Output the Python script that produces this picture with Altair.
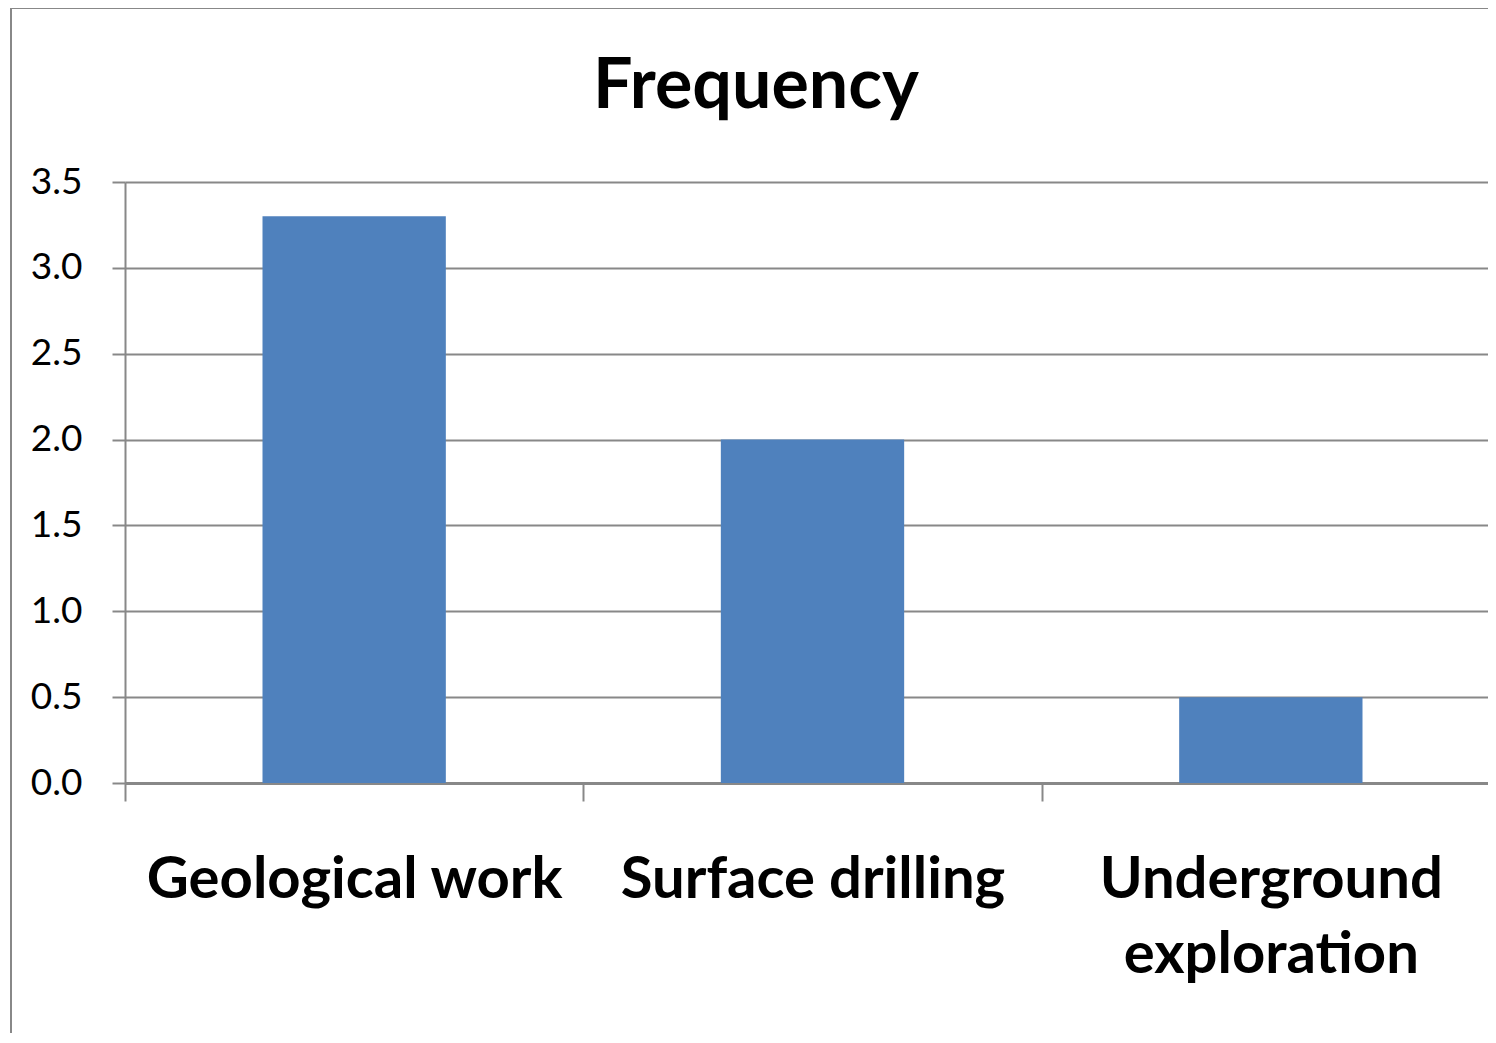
import altair as alt
import pandas as pd

categories = ["Geological work", "Surface drilling", "Underground|exploration"]
values = [3.3, 2.0, 0.5]
y_ticks = [0.0, 0.5, 1.0, 1.5, 2.0, 2.5, 3.0, 3.5]
title_text = ["Frequency"]

df = pd.DataFrame({"category": categories, "value": values})
title_df = pd.DataFrame({"t": title_text})

GRAY = "#888888"

base = alt.Chart(df)

bars = base.mark_bar(color="#4F81BD", width=alt.RelativeBandSize(0.4)).encode(
    x=alt.X(
        "category:N",
        sort=categories,
        scale=alt.Scale(paddingInner=0, paddingOuter=0, range=[0, 1375]),
        axis=alt.Axis(
            title=None,
            labelAngle=0,
            labelFont="Lato",
            labelFontWeight="bold",
            labelFontSize=58,
            labelColor="black",
            labelBaseline="alphabetic",
            labelPadding=96,
            labelLineHeight=75,
            labelLimit=0,
            labelExpr="split(datum.label, '|')",
            tickBand="extent",
            tickSize=18,
            tickWidth=2,
            tickColor=GRAY,
            domainColor=GRAY,
            domainWidth=3,
            grid=False,
        ),
    ),
    y=alt.Y(
        "value:Q",
        scale=alt.Scale(domain=[0, 3.5], nice=False),
        axis=alt.Axis(
            title=None,
            values=y_ticks,
            format=".1f",
            labelFont="Lato",
            labelFontSize=37,
            labelColor="black",
            labelPadding=30,
            tickSize=13,
            tickWidth=2,
            tickColor=GRAY,
            domainColor=GRAY,
            domainWidth=2,
            grid=True,
            gridColor=GRAY,
            gridWidth=2,
            gridOpacity=1,
        ),
    ),
)

title = alt.Chart(title_df).mark_text(
    font="Lato", fontWeight="bold", fontSize=70, color="black",
    align="center", baseline="alphabetic",
).encode(text="t:N", x=alt.value(631), y=alt.value(-74))

frame_top = base.mark_rule(color=GRAY, strokeWidth=2).encode(
    x=alt.value(-115), x2=alt.value(1400), y=alt.value(-174)
)
frame_left = base.mark_rule(color=GRAY, strokeWidth=2).encode(
    x=alt.value(-114), y=alt.value(-175), y2=alt.value(880)
)

chart = alt.layer(bars, title, frame_top, frame_left).properties(
    width=1363,
    height=601,
    autosize=alt.AutoSizeParams(type="none"),
    padding={"left": 117, "top": 174, "right": 0, "bottom": 250},
).configure_view(stroke=None)

chart.save("out.html", embed_options={"renderer": "svg", "actions": False})
